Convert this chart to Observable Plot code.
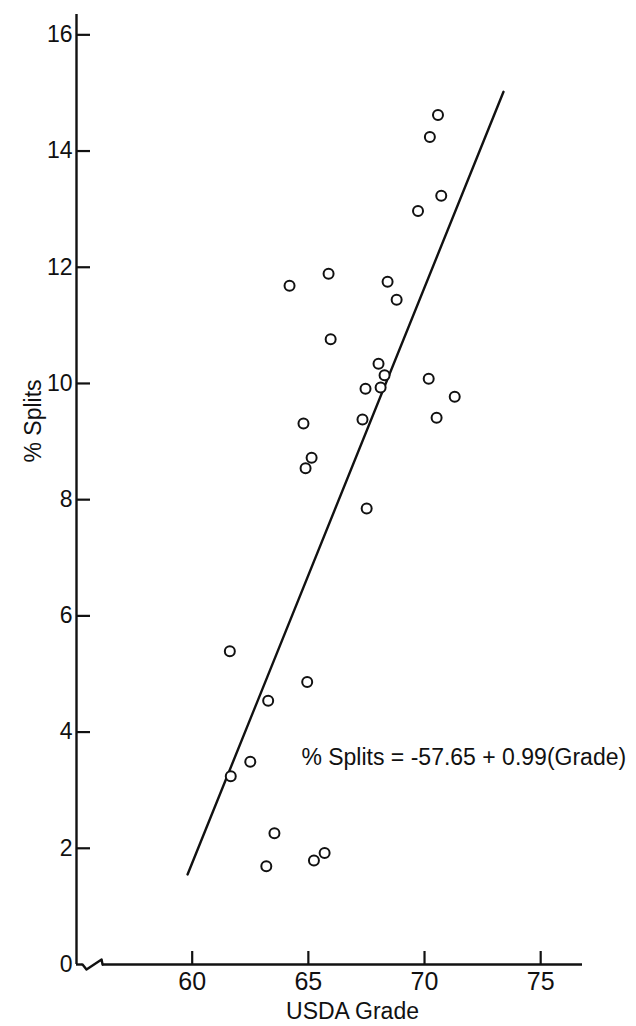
<!DOCTYPE html>
<html><head><meta charset="utf-8">
<script src="https://cdn.jsdelivr.net/npm/d3@7"></script>
<script src="https://cdn.jsdelivr.net/npm/@observablehq/plot@0.6"></script>
<style>
body{margin:0;background:#fff;}
#chart svg{display:block;}
</style>
</head><body><div id="chart"></div>
<script>
// Data
const grade  = [70.58,70.23,70.72,69.72,64.19,65.87,68.41,68.80,65.96,68.02,68.28,67.46,68.11,70.18,71.30,70.52,67.33,64.79,65.14,64.88,67.51,61.62,64.95,63.27,62.50,61.66,63.54,63.19,65.24,65.70];
const splits = [14.62,14.24,13.23,12.97,11.68,11.89,11.75,11.44,10.76,10.34,10.14,9.91,9.93,10.08,9.77,9.41,9.38,9.31,8.72,8.54,7.85,5.39,4.86,4.54,3.49,3.24,2.26,1.69,1.79,1.92];
const fitGrade  = [59.8, 73.4];
const fitSplits = [1.55, 15.02];
const xTicks = [60, 65, 70, 75];
const yTicks = [0, 2, 4, 6, 8, 10, 12, 14, 16];
const xLabel = "USDA Grade";
const yLabel = "% Splits";
const equation = "% Splits = -57.65 + 0.99(Grade)";
const eqGrade = 64.7, eqSplits = 3.56;
// axis break (zig-zag) on the x axis
const breakGrade  = [55.28, 55.45, 56.10, 56.14];
const breakSplits = [0, -0.086, 0.086, 0];
const axisStart = 55.02, axisEnd = 76.8, yTop = 16.35;

const points = grade.map((g, i) => ({g, s: splits[i]}));
const fit = fitGrade.map((g, i) => ({g, s: fitSplits[i]}));
const brk = breakGrade.map((g, i) => ({g, s: breakSplits[i]}));
const font = "'Liberation Sans', Arial, sans-serif";
const ink = "#111";

const W = 636, H = 1026, mL = 76, mR = 54, mT = 14, mB = 62;
const plotW = W - mL - mR, plotH = H - mT - mB;

const chart = Plot.plot({
  width: W, height: H,
  marginLeft: mL, marginRight: mR, marginTop: mT, marginBottom: mB,
  style: {fontFamily: font, color: ink, background: "#fff"},
  x: {domain: [axisStart, axisEnd]},
  y: {domain: [0, yTop]},
  marks: [
    // axis lines
    Plot.ruleX([axisStart], {stroke: ink, strokeWidth: 2.4}),
    Plot.ruleY([0], {x1: axisStart, x2: breakGrade[0], stroke: ink, strokeWidth: 2.4}),
    Plot.ruleY([0], {x1: breakGrade[3], x2: axisEnd, stroke: ink, strokeWidth: 2.4}),
    Plot.line(brk, {x: "g", y: "s", stroke: ink, strokeWidth: 2.4}),
    // inward ticks
    Plot.tickX(xTicks, {x: d => d, insetTop: plotH - 13, stroke: ink, strokeWidth: 2.2}),
    Plot.tickY(yTicks.filter(d => d > 0), {y: d => d, insetRight: plotW - 14, stroke: ink, strokeWidth: 2.2}),
    // tick labels
    Plot.axisX(xTicks, {tickSize: 0, tickPadding: 8, fontSize: 25, label: null, fill: ink, tickFormat: d => String(d)}),
    Plot.axisY(yTicks, {tickSize: 0, tickPadding: 4, fontSize: 23, label: null, fill: ink, tickFormat: d => String(d)}),
    // axis titles
    Plot.text([xLabel], {frameAnchor: "bottom", dx: 23, dy: 38, lineAnchor: "top", fontSize: 23, fill: ink}),
    Plot.text([yLabel], {frameAnchor: "left", rotate: -90, dx: -43, dy: -27, fontSize: 23, fill: ink}),
    // regression line
    Plot.line(fit, {x: "g", y: "s", stroke: ink, strokeWidth: 2.4}),
    // points
    Plot.dot(points, {x: "g", y: "s", r: 5, stroke: ink, strokeWidth: 2, fill: "white"}),
    // equation
    Plot.text([{g: eqGrade, s: eqSplits, t: equation}], {x: "g", y: "s", text: "t", textAnchor: "start", fontSize: 23, fill: ink})
  ]
});
document.getElementById("chart").append(chart);
</script>
</body></html>
